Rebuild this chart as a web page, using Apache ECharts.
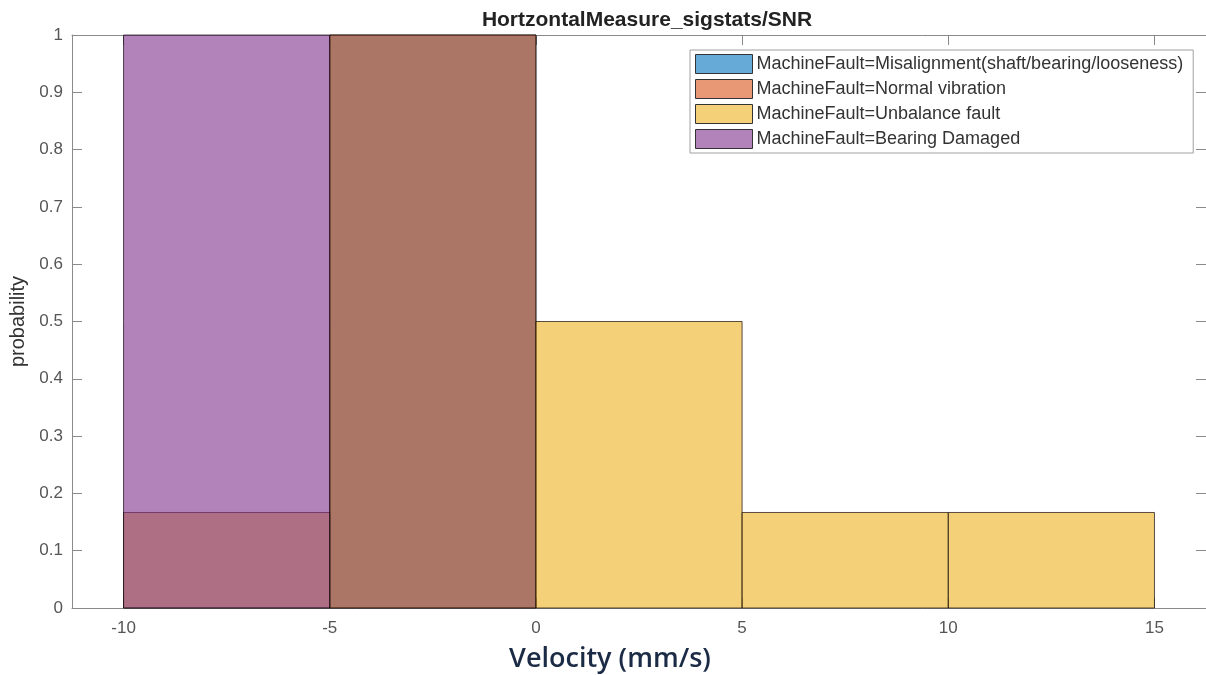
<!DOCTYPE html>
<html>
<head>
<meta charset="utf-8">
<title>HortzontalMeasure_sigstats/SNR</title>
<script src="https://cdn.jsdelivr.net/npm/echarts@6/dist/echarts.min.js"></script>
<style>
  html, body { margin: 0; padding: 0; background: #fff; }
  #chart { width: 1206px; height: 675px; }
</style>
</head>
<body>
<div id="chart"></div>
<script>
// histogram bins (velocity, mm/s)
const binEdges = [-10, -5, 0, 5, 10, 15]
const xTicks = [-10, -5, 0, 5, 10, 15]
const yTicks = [0, 0.1, 0.2, 0.3, 0.4, 0.5, 0.6, 0.7, 0.8, 0.9, 1]

// probability per bin, one array per class
const misalignment = [0, 1, 0, 0, 0]
const normalVibration = [0, 1, 0, 0, 0]
const unbalanceFault = [0.1667, 0, 0.5, 0.1667, 0.1667]
const bearingDamaged = [1, 0, 0, 0, 0]

const seriesNames = [
  "MachineFault=Misalignment(shaft/bearing/looseness)",
  "MachineFault=Normal vibration",
  "MachineFault=Unbalance fault",
  "MachineFault=Bearing Damaged"
]
const seriesValues = [misalignment, normalVibration, unbalanceFault, bearingDamaged]
// matlab default colors, FaceAlpha 0.6
const colors = [
  "rgba(0,114,189,0.6)",
  "rgba(217,83,25,0.6)",
  "rgba(237,177,32,0.6)",
  "rgba(126,47,142,0.6)"
]

function toBins(values) {
  const out = []
  values.forEach((p, i) => {
    if (p > 0) out.push([binEdges[i], binEdges[i + 1], p])
  })
  return out
}

function renderBar(params, api) {
  const p0 = api.coord([api.value(0), api.value(2)])
  const p1 = api.coord([api.value(1), 0])
  return {
    type: "rect",
    shape: { x: p0[0], y: p0[1], width: p1[0] - p0[0], height: p1[1] - p0[1] },
    style: {
      fill: api.visual("color"),
      stroke: "rgba(20,10,10,0.7)",
      lineWidth: 1
    }
  }
}

const chart = echarts.init(document.getElementById("chart"))
const font = "Liberation Sans, Arial, sans-serif"
const labelFont = { color: "#555", fontSize: 17, fontFamily: font }
const axisLine = { show: true, onZero: false, lineStyle: { color: "#8a8a8a", width: 1 } }
const tick = { show: true, inside: true, length: 10, lineStyle: { color: "#8a8a8a" } }

chart.setOption({
  animation: false,
  backgroundColor: "#fff",
  title: {
    text: "HortzontalMeasure_sigstats/SNR",
    left: 642,
    textAlign: "center",
    top: 5,
    textStyle: { fontSize: 21, fontWeight: "bold", color: "#222", fontFamily: font }
  },
  grid: { left: 72, right: -4, top: 35, bottom: 67 },
  legend: {
    orient: "vertical",
    left: 690,
    top: 50,
    width: 504,
    padding: [4, 10, 4, 5],
    itemWidth: 57,
    itemHeight: 19,
    itemGap: 5,
    icon: "rect",
    backgroundColor: "#fff",
    borderColor: "#a0a0a0",
    borderWidth: 1,
    borderRadius: 0,
    selectedMode: false,
    itemStyle: { borderColor: "#333", borderWidth: 1 },
    textStyle: { color: "#333", fontSize: 18, padding: [0, 0, 0, -1], fontFamily: font },
    data: seriesNames
  },
  xAxis: [
    {
      type: "value",
      min: -11.25,
      max: 16.25,
      axisLine: axisLine,
      axisTick: Object.assign({ customValues: xTicks }, tick),
      axisLabel: Object.assign({ margin: 12, customValues: xTicks }, labelFont),
      splitLine: { show: false }
    },
    {
      type: "value",
      position: "top",
      min: -11.25,
      max: 16.25,
      axisLine: axisLine,
      axisTick: Object.assign({ customValues: xTicks }, tick),
      axisLabel: { show: false, customValues: xTicks },
      splitLine: { show: false }
    }
  ],
  yAxis: [
    {
      type: "value",
      min: 0,
      max: 1,
      name: "probability",
      nameLocation: "middle",
      nameGap: 43,
      nameRotate: 90,
      nameTextStyle: { color: "#333", fontSize: 20, fontFamily: font },
      axisLine: axisLine,
      axisTick: Object.assign({ customValues: yTicks }, tick),
      axisLabel: Object.assign({ margin: 9, customValues: yTicks, formatter: v => String(+v.toFixed(1)) }, labelFont),
      splitLine: { show: false }
    },
    {
      type: "value",
      position: "right",
      min: 0,
      max: 1,
      axisLine: axisLine,
      axisTick: Object.assign({ customValues: yTicks }, tick),
      axisLabel: { show: false, customValues: yTicks },
      splitLine: { show: false }
    }
  ],
  graphic: [
    {
      type: "text",
      x: 610,
      y: 659,
      style: {
        text: "Velocity (mm/s)",
        align: "center",
        verticalAlign: "middle",
        fill: "#1b2b45",
        fontSize: 27,
        fontWeight: 600,
        fontFamily: "Open Sans, Lato, sans-serif"
      }
    }
  ],
  series: seriesNames.map((name, i) => ({
    name: name,
    type: "custom",
    xAxisIndex: 0,
    yAxisIndex: 0,
    itemStyle: { color: colors[i] },
    renderItem: renderBar,
    encode: { x: [0, 1], y: 2 },
    data: toBins(seriesValues[i])
  }))
})
</script>
</body>
</html>
